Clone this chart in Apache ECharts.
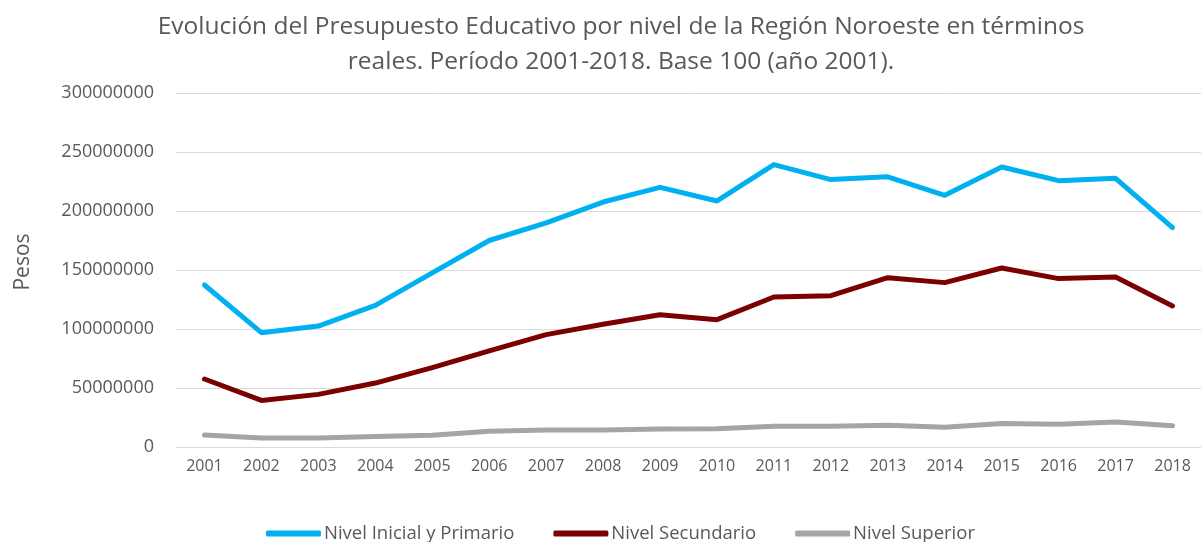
<!DOCTYPE html>
<html>
<head>
<meta charset="utf-8">
<script src="https://cdn.jsdelivr.net/npm/echarts@6/dist/echarts.min.js"></script>
<style>
  html, body { margin: 0; padding: 0; background: #fff; }
  #chart { width: 1201px; height: 542px; }
</style>
</head>
<body>
<div id="chart"></div>
<script>
const years = ['2001', '2002', '2003', '2004', '2005', '2006', '2007', '2008', '2009',
  '2010', '2011', '2012', '2013', '2014', '2015', '2016', '2017', '2018'];

const inicialPrimario = [137300000, 96900000, 102500000, 120000000, 147500000, 175000000,
  190000000, 207600000, 220000000, 208500000, 239300000, 226600000, 229000000, 213300000,
  237300000, 225700000, 227700000, 185900000];

const secundario = [57600000, 39500000, 44600000, 54200000, 67200000, 81400000, 95200000,
  104000000, 112000000, 107900000, 127100000, 128200000, 143500000, 139300000, 151700000,
  142700000, 144000000, 119500000];

const superior = [10200000, 7600000, 7600000, 8800000, 9900000, 13300000, 14400000,
  14400000, 15300000, 15500000, 17500000, 17500000, 18400000, 16700000, 20000000,
  19200000, 21200000, 18000000];

const titleText = 'Evolución del Presupuesto Educativo por nivel de la Región Noroeste en términos\nreales. Período 2001-2018. Base 100 (año 2001).';

const chart = echarts.init(document.getElementById('chart'), null, { renderer: 'canvas' });

const lineSeries = (name, data, color) => ({
  name,
  type: 'line',
  data,
  showSymbol: false,
  symbol: 'none',
  lineStyle: { color, width: 5, cap: 'round', join: 'round' },
  itemStyle: { color },
  animation: false
});

chart.setOption({
  backgroundColor: '#ffffff',
  textStyle: { fontFamily: 'Open Sans, sans-serif', color: '#595959' },
  title: {
    text: titleText,
    left: 616,
    textAlign: 'center',
    top: 5,
    textStyle: { fontFamily: 'Open Sans', fontSize: 24.5, fontWeight: 'normal', color: '#595959', lineHeight: 35 }
  },
  grid: { left: 176, top: 93, width: 1029, height: 354 },
  legend: {
    data: ['Nivel Inicial y Primario', 'Nivel Secundario', 'Nivel Superior'],
    top: 519,
    left: 261,
    icon: 'roundRect',
    itemWidth: 55,
    itemHeight: 6,
    itemGap: 39,
    textStyle: { fontFamily: 'Open Sans', fontSize: 18.5, color: '#595959', padding: [0, 0, 0, -2] }
  },
  xAxis: {
    type: 'category',
    data: years,
    boundaryGap: true,
    axisLine: { lineStyle: { color: '#d9d9d9', width: 1 } },
    axisTick: { show: false },
    axisLabel: { fontFamily: 'Open Sans', fontSize: 16, color: '#595959', margin: 11 }
  },
  yAxis: {
    type: 'value',
    min: 0,
    max: 300000000,
    interval: 50000000,
    name: 'Pesos',
    nameLocation: 'middle',
    nameGap: 142,
    nameTextStyle: { fontFamily: 'Open Sans', fontSize: 21, color: '#595959', padding: [0, 0, 0, 16] },
    axisLine: { show: false },
    axisTick: { show: false },
    axisLabel: {
      fontFamily: 'Open Sans', fontSize: 18, color: '#595959', margin: 22,
      formatter: (v) => String(v)
    },
    splitLine: { lineStyle: { color: '#d9d9d9', width: 1 } }
  },
  series: [
    lineSeries('Nivel Inicial y Primario', inicialPrimario, '#00b0f0'),
    lineSeries('Nivel Secundario', secundario, '#7b0000'),
    lineSeries('Nivel Superior', superior, '#a5a5a5')
  ]
});

window.addEventListener('resize', () => chart.resize());
</script>
</body>
</html>
